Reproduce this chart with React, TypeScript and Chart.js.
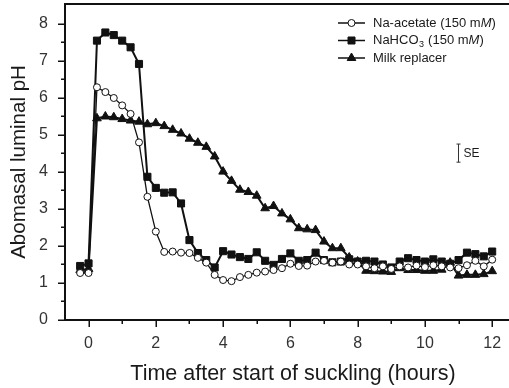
import React, { useEffect, useRef } from "react";
import { Chart, registerables } from "chart.js";
Chart.register(...registerables);

const FONT = '"Liberation Sans", Arial, Helvetica, sans-serif';

const TIME_HOURS = [-0.25, 0, 0.25, 0.5, 0.75, 1, 1.25, 1.5, 1.75, 2, 2.25, 2.5, 2.75, 3, 3.25, 3.5, 3.75, 4, 4.25, 4.5, 4.75, 5, 5.25, 5.5, 5.75, 6, 6.25, 6.5, 6.75, 7, 7.25, 7.5, 7.75, 8, 8.25, 8.5, 8.75, 9, 9.25, 9.5, 9.75, 10, 10.25, 10.5, 10.75, 11, 11.25, 11.5, 11.75, 12];

const NA_ACETATE = [1.27, 1.27, 6.29, 6.16, 6.0, 5.8, 5.57, 4.8, 3.33, 2.39, 1.84, 1.85, 1.82, 1.81, 1.68, 1.55, 1.22, 1.08, 1.05, 1.16, 1.22, 1.28, 1.31, 1.35, 1.4, 1.52, 1.46, 1.47, 1.58, 1.6, 1.55, 1.58, 1.5, 1.5, 1.45, 1.4, 1.45, 1.38, 1.45, 1.42, 1.47, 1.43, 1.48, 1.45, 1.42, 1.4, 1.48, 1.6, 1.45, 1.63];

const NAHCO3 = [1.46, 1.53, 7.55, 7.77, 7.7, 7.55, 7.37, 6.92, 3.87, 3.57, 3.44, 3.45, 3.15, 2.16, 1.81, 1.62, 1.42, 1.86, 1.77, 1.7, 1.65, 1.83, 1.6, 1.49, 1.65, 1.8, 1.6, 1.62, 1.82, 1.62, 1.56, 1.58, 1.64, 1.58, 1.6, 1.58, 1.5, 1.42, 1.58, 1.67, 1.62, 1.58, 1.64, 1.58, 1.52, 1.62, 1.82, 1.78, 1.72, 1.85];

const MILK_REPLACER = [1.35, 1.38, 5.45, 5.5, 5.48, 5.43, 5.39, 5.36, 5.29, 5.32, 5.24, 5.14, 5.04, 4.9, 4.79, 4.68, 4.42, 4.01, 3.76, 3.52, 3.46, 3.36, 3.02, 3.08, 2.88, 2.72, 2.48, 2.45, 2.43, 2.12, 1.94, 1.94, 1.69, 1.58, 1.33, 1.32, 1.31, 1.3, 1.4, 1.35, 1.35, 1.33, 1.33, 1.36, 1.55, 1.2, 1.22, 1.22, 1.24, 1.32];

const X_TICKS = [0, 1, 2, 3, 4, 5, 6, 7, 8, 9, 10, 11, 12];
const X_LABELED = [0, 2, 4, 6, 8, 10, 12];
const Y_TICKS = [0, 0.5, 1, 1.5, 2, 2.5, 3, 3.5, 4, 4.5, 5, 5.5, 6, 6.5, 7, 7.5, 8];
const Y_LABELED = [0, 1, 2, 3, 4, 5, 6, 7, 8];

const X_TITLE = "Time after start of suckling (hours)";
const Y_TITLE = "Abomasal luminal pH";

// SE bar (value space)
const SE_X = 10.97;
const SE_CENTER = 4.51;
const SE_HALF = 0.245;
const SE_LABEL = "SE";

type Seg = { t: string; italic?: boolean; sub?: boolean };
const LEGEND_ITEMS: { marker: string; parts: Seg[] }[] = [
  { marker: "circle", parts: [{ t: "Na-acetate (150 m" }, { t: "M", italic: true }, { t: ")" }] },
  { marker: "rect", parts: [{ t: "NaHCO" }, { t: "3", sub: true }, { t: " (150 m" }, { t: "M", italic: true }, { t: ")" }] },
  { marker: "triangle", parts: [{ t: "Milk replacer" }] },
];

function drawMarker(ctx: CanvasRenderingContext2D, style: string, x: number, y: number) {
  ctx.save();
  ctx.strokeStyle = "#111";
  ctx.fillStyle = "#111";
  ctx.lineWidth = 1;
  ctx.beginPath();
  if (style === "circle") {
    ctx.fillStyle = "#fff";
    ctx.arc(x, y, 3.5, 0, Math.PI * 2);
    ctx.fill();
    ctx.stroke();
  } else if (style === "rect") {
    ctx.rect(x - 3.5, y - 3.5, 7, 7);
    ctx.fill();
    ctx.stroke();
  } else {
    const r = 5;
    ctx.moveTo(x, y - r);
    ctx.lineTo(x + r * Math.sin((2 * Math.PI) / 3), y - r * Math.cos((2 * Math.PI) / 3));
    ctx.lineTo(x + r * Math.sin((4 * Math.PI) / 3), y - r * Math.cos((4 * Math.PI) / 3));
    ctx.closePath();
    ctx.fill();
    ctx.stroke();
  }
  ctx.restore();
}

const zeroPad = (s: any) => {
  s.paddingTop = 0;
  s.paddingBottom = 0;
  s.paddingLeft = 0;
  s.paddingRight = 0;
};

const decorPlugin = {
  id: "decor",
  beforeDatasetsDraw(chart: any) {
    const ctx: CanvasRenderingContext2D = chart.ctx;
    const { left, right, top, bottom } = chart.chartArea;
    const xs = chart.scales.x;
    const ys = chart.scales.y;
    ctx.save();
    ctx.strokeStyle = "#111";
    ctx.lineWidth = 2;
    ctx.beginPath();
    ctx.moveTo(left - 1, top);
    ctx.lineTo(right, top);
    ctx.moveTo(left, top - 1);
    ctx.lineTo(left, bottom + 1);
    ctx.moveTo(left - 1, bottom);
    ctx.lineTo(right, bottom);
    ctx.stroke();
    ctx.lineWidth = 1.5;
    ctx.beginPath();
    X_TICKS.forEach((v) => {
      const px = Math.round(xs.getPixelForValue(v)) + 0.25;
      const len = X_LABELED.includes(v) ? 7 : 4;
      ctx.moveTo(px, bottom);
      ctx.lineTo(px, bottom + len);
    });
    Y_TICKS.forEach((v) => {
      const py = Math.round(ys.getPixelForValue(v)) + 0.25;
      const len = Y_LABELED.includes(v) ? 7 : 4;
      ctx.moveTo(left, py);
      ctx.lineTo(left - len, py);
    });
    ctx.stroke();
    ctx.restore();
  },
  afterDraw(chart: any) {
    const ctx: CanvasRenderingContext2D = chart.ctx;
    const { top, bottom } = chart.chartArea;
    const xs = chart.scales.x;
    const ys = chart.scales.y;
    ctx.save();
    // axis titles
    ctx.fillStyle = "#1a1a1a";
    ctx.font = `21.5px ${FONT}`;
    ctx.textAlign = "center";
    ctx.textBaseline = "alphabetic";
    ctx.fillText(X_TITLE, 293, 380);
    ctx.save();
    ctx.translate(25, (top + bottom) / 2);
    ctx.rotate(-Math.PI / 2);
    ctx.font = `20.5px ${FONT}`;
    ctx.fillText(Y_TITLE, 0, 0);
    ctx.restore();

    // legend
    const lx0 = 338, lx1 = 365, tx = 373;
    const rowY = [23, 40.5, 58];
    LEGEND_ITEMS.forEach((item, i) => {
      const y = rowY[i];
      ctx.strokeStyle = "#111";
      ctx.lineWidth = 1.5;
      ctx.beginPath();
      ctx.moveTo(lx0, y);
      ctx.lineTo(lx1, y);
      ctx.stroke();
      drawMarker(ctx, item.marker, (lx0 + lx1) / 2, y);
      let x = tx;
      ctx.fillStyle = "#1a1a1a";
      ctx.textAlign = "left";
      ctx.textBaseline = "middle";
      item.parts.forEach((p) => {
        if (p.sub) {
          ctx.font = `9px ${FONT}`;
          ctx.fillText(p.t, x + 0.5, y + 4);
          x += ctx.measureText(p.t).width + 1;
        } else {
          ctx.font = `${p.italic ? "italic " : ""}13px ${FONT}`;
          ctx.fillText(p.t, x, y);
          x += ctx.measureText(p.t).width;
        }
      });
    });

    // SE bar
    const sx = Math.round(xs.getPixelForValue(SE_X)) + 0.5;
    const sy0 = ys.getPixelForValue(SE_CENTER + SE_HALF);
    const sy1 = ys.getPixelForValue(SE_CENTER - SE_HALF);
    ctx.strokeStyle = "#333";
    ctx.lineWidth = 1;
    ctx.beginPath();
    ctx.moveTo(sx, sy0);
    ctx.lineTo(sx, sy1);
    ctx.moveTo(sx - 2, sy0);
    ctx.lineTo(sx + 2, sy0);
    ctx.moveTo(sx - 2, sy1);
    ctx.lineTo(sx + 2, sy1);
    ctx.stroke();
    ctx.fillStyle = "#1a1a1a";
    ctx.font = `12px ${FONT}`;
    ctx.textAlign = "left";
    ctx.textBaseline = "middle";
    ctx.fillText(SE_LABEL, sx + 5, (sy0 + sy1) / 2 + 1);
    ctx.restore();
  },
};

export default function App() {
  const canvasRef = useRef<HTMLCanvasElement | null>(null);

  useEffect(() => {
    if (!canvasRef.current) return;
    const mk = (vals: number[]) => vals.map((v, i) => ({ x: TIME_HOURS[i], y: v }));
    const chart = new Chart(canvasRef.current, {
      type: "line",
      data: {
        datasets: [
          {
            label: "Na-acetate (150 mM)",
            data: mk(NA_ACETATE),
            borderColor: "#111",
            borderWidth: 1.3,
            pointStyle: "circle",
            pointRadius: 3.5,
            pointBackgroundColor: "#fff",
            pointBorderColor: "#111",
            pointBorderWidth: 1,
            tension: 0,
          },
          {
            label: "NaHCO3 (150 mM)",
            data: mk(NAHCO3),
            borderColor: "#111",
            borderWidth: 2,
            pointStyle: "rect",
            pointRadius: 5,
            pointBackgroundColor: "#111",
            pointBorderColor: "#111",
            pointBorderWidth: 1,
            tension: 0,
          },
          {
            label: "Milk replacer",
            data: mk(MILK_REPLACER),
            borderColor: "#111",
            borderWidth: 2,
            pointStyle: "triangle",
            pointRadius: 5,
            pointBackgroundColor: "#111",
            pointBorderColor: "#111",
            pointBorderWidth: 1,
            tension: 0,
          },
        ],
      },
      options: {
        animation: false,
        responsive: false,
        maintainAspectRatio: false,
        layout: { autoPadding: false, padding: { left: 0, right: 0, top: 4, bottom: 0 } },
        plugins: { legend: { display: false }, tooltip: { enabled: false } },
        scales: {
          x: {
            type: "linear",
            min: -0.7,
            max: 12.5,
            afterBuildTicks: (s: any) => {
              s.ticks = X_TICKS.map((v) => ({ value: v }));
            },
            afterFit: (s: any) => {
              s.height = 68;
              zeroPad(s);
            },
            ticks: {
              autoSkip: false,
              maxRotation: 0,
              padding: 14,
              color: "#333",
              font: { family: FONT, size: 16 },
              callback: (v: any) => (X_LABELED.includes(Number(v)) ? String(v) : ""),
            },
            grid: { display: false, drawTicks: false },
            border: { display: false },
          },
          y: {
            type: "linear",
            min: 0,
            max: 8.54,
            afterBuildTicks: (s: any) => {
              s.ticks = Y_TICKS.map((v) => ({ value: v }));
            },
            afterFit: (s: any) => {
              s.width = 65;
              zeroPad(s);
            },
            ticks: {
              autoSkip: false,
              padding: 17,
              color: "#333",
              font: { family: FONT, size: 16 },
              callback: (v: any) => (Y_LABELED.includes(Number(v)) ? String(v) : ""),
            },
            grid: { display: false, drawTicks: false },
            border: { display: false },
          },
        },
      },
      plugins: [decorPlugin],
    });
    return () => chart.destroy();
  }, []);

  return (
    <div style={{ position: "fixed", left: 0, top: 0, width: 509, height: 388, background: "#fff" }}>
      <canvas ref={canvasRef} width={509} height={388} style={{ display: "block", width: 509, height: 388 }} />
    </div>
  );
}
